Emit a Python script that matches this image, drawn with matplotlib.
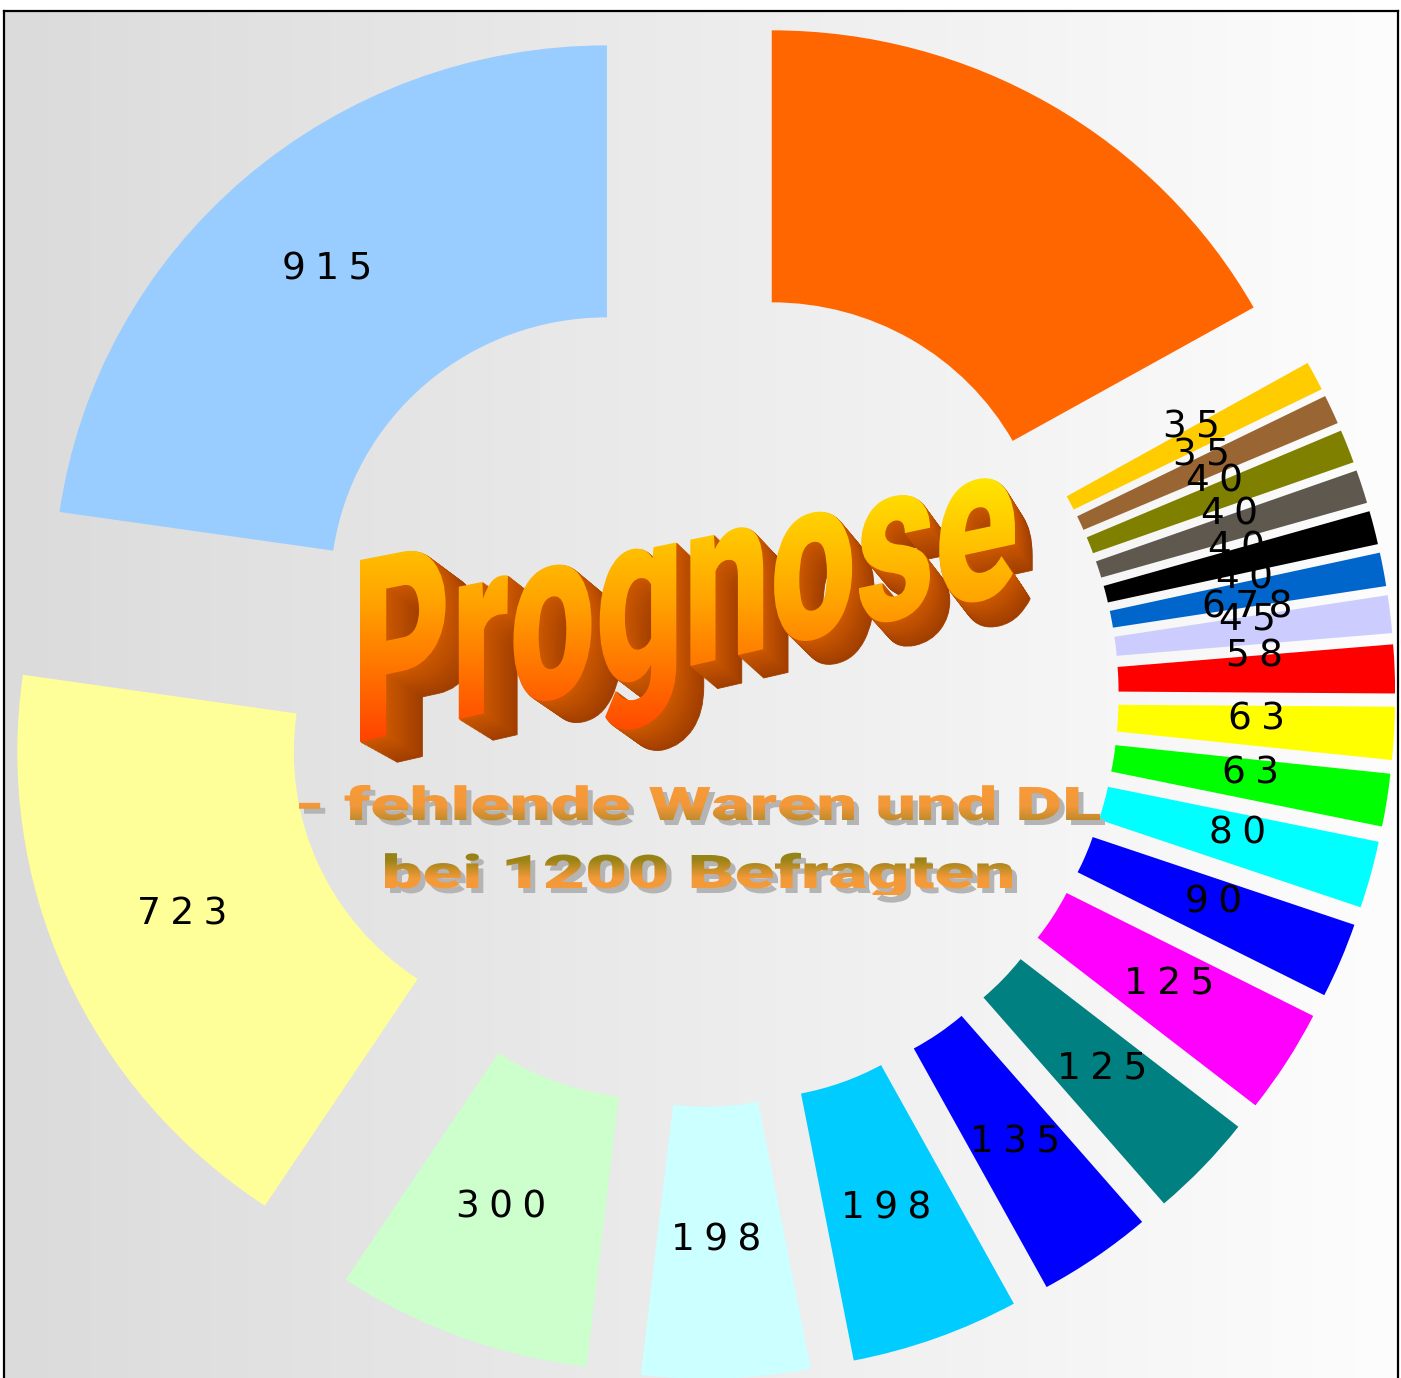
import numpy as np
import matplotlib
matplotlib.use("Agg")
import matplotlib.pyplot as plt
from matplotlib.textpath import TextPath
from matplotlib.font_manager import FontProperties
from matplotlib.path import Path
from matplotlib.patches import PathPatch
from matplotlib.colors import LinearSegmentedColormap
from matplotlib.transforms import ScaledTranslation

W, H = 1401, 1378  # output size in pixels

# answers per item, clockwise from 12 o'clock (1200 respondents, multiple answers)
values = [678, 35, 35, 40, 40, 40, 40, 45, 58, 63, 63, 80, 90,
          125, 125, 135, 198, 198, 300, 723, 915]
colors = ["#FF6600", "#FFCC00", "#996633", "#808000", "#5E584E", "#000000",
          "#0066CC", "#CCCCFF", "#FF0000", "#FFFF00", "#00FF00", "#00FFFF",
          "#0000FF", "#FF00FF", "#008080", "#0000FF", "#00CCFF", "#CCFFFF",
          "#CCFFCC", "#FFFF99", "#99CCFF"]
# digits spread out like in the original (four-per-em space)
labels = ["\u2005".join(str(v)) for v in values]

title = "Prognose"
subtitle = ["- fehlende Waren und DL", "bei 1200 Befragten"]

# crowded labels on the right side were pushed around in the original
label_moves = {0: (0.990, 0.160), 1: (0.889, 0.491), 2: (0.907, 0.441),
               3: (0.931, 0.392), 4: (0.958, 0.331), 5: (0.970, 0.270),
               6: (0.985, 0.215), 7: (0.990, 0.138), 8: (1.003, 0.070)}


def word_path(s, prop, x0, y0, width, cap, slope=0.0, shrink=0.0):
    """Text outline in pixel coords (y down): left ink at x0, baseline y0."""
    tp = TextPath((0, 0), s, size=100, prop=prop)
    capref = TextPath((0, 0), "H", size=100, prop=prop).get_extents().height
    ext = tp.get_extents()
    v = tp.vertices
    u = (v[:, 0] - ext.x0) / ext.width
    X = x0 + u * width
    sy = cap / capref * (1 - shrink * u)
    Y = y0 - slope * (X - x0) - v[:, 1] * sy
    return Path(np.column_stack([X, Y]), tp.codes)


def shifted(p, dx, dy):
    return Path(p.vertices + np.array([dx, dy]), p.codes)


def toward(p, vp, t):
    v = p.vertices
    return Path(v + t * (np.array(vp) - v), p.codes)


def gradient_fill(ax, path, ystops, cstops, zorder):
    patch = PathPatch(path, fc="none", ec="none", zorder=zorder)
    ax.add_patch(patch)
    y0, y1 = ystops[0], ystops[-1]
    pos = [(y - y0) / (y1 - y0) for y in ystops]
    cmap = LinearSegmentedColormap.from_list("g", list(zip(pos, cstops)))
    ext = path.get_extents()
    grad = np.linspace(0, 1, 256)[:, None]
    im = ax.imshow(grad, cmap=cmap, aspect="auto", origin="upper",
                   extent=(ext.x0 - 2, ext.x1 + 2, y1, y0), zorder=zorder,
                   interpolation="bilinear")
    im.set_clip_path(patch)


fig = plt.figure(figsize=(W / 100, H / 100), dpi=100)
fig.patch.set_facecolor("white")

ax = fig.add_axes([4 / W, 0, 1394 / W, 1367 / H])
wedges, texts = ax.pie(values, colors=colors, startangle=90, counterclock=False,
                       radius=1.0, explode=[0.257] * len(values), labels=labels,
                       labeldistance=0.76,
                       wedgeprops=dict(width=0.5, linewidth=0, zorder=2),
                       textprops=dict(fontsize=27, family="DejaVu Sans",
                                      color="black", zorder=3))
nudge = ax.transData + ScaledTranslation(-0.05, 0.07, fig.dpi_scale_trans)
for i, t in enumerate(texts):
    t.set_ha("center")
    t.set_va("center")
    if i in label_moves:
        t.set_position(label_moves[i])
    else:
        t.set_transform(nudge)

xlim = (-1.2586, 1.2622)
ylim = (-1.2555, 1.2574)
bg = LinearSegmentedColormap.from_list("bg", ["#DBDBDB", "#FDFDFD"])
ax.imshow(np.linspace(0, 1, 256)[None, :], cmap=bg, aspect="auto",
          extent=(xlim[0], xlim[1], ylim[0], ylim[1]), zorder=0)
ax.set_aspect("auto")
ax.set_xlim(*xlim)
ax.set_ylim(*ylim)
ax.set_frame_on(True)
for side in ["left", "top", "right"]:
    ax.spines[side].set_linewidth(1.6)
    ax.spines[side].set_color("black")
ax.spines["bottom"].set_visible(False)
ax.set_xticks([])
ax.set_yticks([])

# overlay in pixel coordinates for the word art
ax2 = fig.add_axes([0, 0, 1, 1])
ax2.patch.set_visible(False)

heavy = FontProperties(family=["Roboto", "DejaVu Sans"], weight="black")

# "Prognose" - sheared letters extruded toward a vanishing point
front = word_path(title, heavy, 360, 742, 655, 182, slope=0.23, shrink=0.13)
vanish = (1590, 1420)
n = 26
for k in range(n, 0, -1):
    f = k / n
    c = np.array([0xA0, 0x3E, 0x00]) * f + np.array([0xCC, 0x58, 0x00]) * (1 - f)
    ax2.add_patch(PathPatch(toward(front, vanish, 0.03 * f),
                            fc=c / 255, ec=c / 255, lw=0.6, zorder=4))
gradient_fill(ax2, front, [468, 600, 745],
              ["#FFEA00", "#FFA400", "#FF4000"], zorder=5)

# subtitle with grey shadow
line1 = word_path(subtitle[0], heavy, 299, 820, 801, 33)
line2 = word_path(subtitle[1], heavy, 385, 888, 627, 33)
both = Path.make_compound_path(line1, line2)
ax2.add_patch(PathPatch(shifted(both, 5, 5), fc="#B4B4B4", ec="none", zorder=4))
gradient_fill(ax2, both, [785, 806, 822, 845, 860, 878, 895],
              ["#F89B3A", "#F29838", "#B8892A", "#8E8114", "#9A8418",
               "#F29938", "#F89B3A"], zorder=5)

ax2.set_xlim(0, W)
ax2.set_ylim(H, 0)
ax2.axis("off")

fig.savefig("out.png", dpi=100)
